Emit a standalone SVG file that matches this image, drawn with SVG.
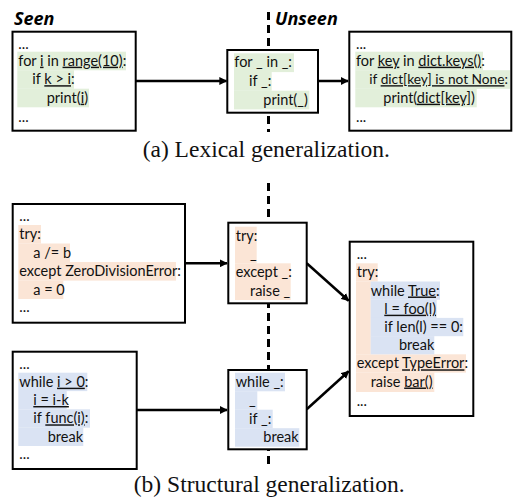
<svg xmlns="http://www.w3.org/2000/svg" width="513" height="504" viewBox="0 0 513 504">
<style>
.box{fill:#fff;stroke:#000;stroke-width:2}
.g{fill:#e2efda}
.o{fill:#fbe5d6}
.b{fill:#dae3f3}
.code{font-family:Lato,"Liberation Sans",sans-serif;font-size:14.5px;fill:#111}
.u{text-decoration:underline}
.head{font-family:"Open Sans","Liberation Sans",sans-serif;font-size:18px;font-weight:bold;font-style:italic;fill:#000}
.cap{font-family:"Liberation Serif",serif;font-size:23.5px;fill:#111;text-anchor:middle}
.conn{stroke:#000;stroke-width:2.5;fill:none}
.dash{stroke:#000;stroke-width:3;stroke-dasharray:8 5;fill:none}
</style>
<defs>
<marker id="ah" viewBox="0 0 10 10" refX="9" refY="5" markerWidth="3.2" markerHeight="3.2" orient="auto" markerUnits="strokeWidth">
<path d="M0,0 L10,5 L0,10 z" fill="#000"/>
</marker>
</defs>

<g id="divider">
<line class="dash" x1="268.5" y1="12" x2="268.5" y2="132"/>
<line class="dash" x1="268.5" y1="183" x2="268.5" y2="468"/>
</g>

<text class="head" x="14" y="25">Seen</text>
<text class="head" x="275" y="25">Unseen</text>

<g id="connectors">
<line class="conn" x1="136" y1="81" x2="226.5" y2="81" marker-end="url(#ah)"/>
<line class="conn" x1="318" y1="81" x2="348" y2="81" marker-end="url(#ah)"/>
<line class="conn" x1="185" y1="263.3" x2="227" y2="263.3" marker-end="url(#ah)"/>
<line class="conn" x1="306.7" y1="263.3" x2="348.7" y2="300.8" marker-end="url(#ah)"/>
<line class="conn" x1="136.7" y1="410" x2="227" y2="410" marker-end="url(#ah)"/>
<line class="conn" x1="306.7" y1="409.3" x2="348.7" y2="371.2" marker-end="url(#ah)"/>
</g>

<g id="seen-for">
<rect class="box" x="12.5" y="31.7" width="123.2" height="99"/>
<rect class="g" x="17.3" y="51.7" width="108.7" height="18.6"/>
<rect class="g" x="17.3" y="70.2" width="56.7" height="18.6"/>
<rect class="g" x="17.3" y="88.7" width="71.7" height="18.6"/>
<text class="code" x="18.3" y="48.5">...</text>
<text class="code" x="18.3" y="65.7">for <tspan class="u">i</tspan> in <tspan class="u">range(10)</tspan>:</text>
<text class="code" x="32.3" y="84.2">if <tspan class="u">k &gt; i</tspan>:</text>
<text class="code" x="46.7" y="102.7">print(<tspan class="u">i</tspan>)</text>
<text class="code" x="18.3" y="122">...</text>
</g>

<g id="template-for">
<rect class="box" x="227.3" y="50" width="90.7" height="62.7"/>
<rect class="g" x="234" y="53.3" width="60" height="18.8"/>
<rect class="g" x="234" y="72" width="37.7" height="18.8"/>
<rect class="g" x="234" y="90.7" width="75.3" height="18.7"/>
<text class="code" x="234.3" y="67.3">for _ in _:</text>
<text class="code" x="249" y="86">if _:</text>
<text class="code" x="263.3" y="104.7">print(_)</text>
</g>

<g id="unseen-for">
<rect class="box" x="349.3" y="31.7" width="162" height="99"/>
<rect class="g" x="355.3" y="51.7" width="127.7" height="18.6"/>
<rect class="g" x="355.3" y="70.2" width="154.7" height="18.6"/>
<rect class="g" x="355.3" y="88.7" width="121.4" height="18.6"/>
<text class="code" x="356" y="48.5">...</text>
<text class="code" x="356" y="65.7">for <tspan class="u">key</tspan> in <tspan class="u">dict.keys()</tspan>:</text>
<text class="code" x="369.3" y="84.2" style="font-size:13.7px">if <tspan class="u">dict[key] is not None</tspan>:</text>
<text class="code" x="383.3" y="102.7">print(<tspan class="u">dict[key]</tspan>)</text>
<text class="code" x="356" y="122">...</text>
</g>

<text class="cap" x="266.3" y="157">(a) Lexical generalization.</text>

<g id="seen-try">
<rect class="box" x="12.7" y="204" width="172.3" height="118.7"/>
<rect class="o" x="18.3" y="225" width="22.7" height="18.6"/>
<rect class="o" x="18.3" y="243.5" width="51.7" height="18.6"/>
<rect class="o" x="18.3" y="262" width="157.7" height="18.6"/>
<rect class="o" x="18.3" y="280.5" width="45" height="18.5"/>
<text class="code" x="19.3" y="221">...</text>
<text class="code" x="19.3" y="239">try:</text>
<text class="code" x="33.3" y="257.5">a /= b</text>
<text class="code" x="19.3" y="276">except ZeroDivisionError:</text>
<text class="code" x="33.3" y="294.5">a = 0</text>
<text class="code" x="19.3" y="312">...</text>
</g>

<g id="template-try">
<rect class="box" x="228.3" y="222.7" width="78.4" height="80.6"/>
<rect class="o" x="235" y="226.7" width="21.7" height="36.7"/>
<rect class="o" x="235" y="263.3" width="55.7" height="36.7"/>
<text class="code" x="235.7" y="240.7">try:</text>
<text class="code" x="250" y="259">_</text>
<text class="code" x="235.7" y="277.3">except _:</text>
<text class="code" x="250" y="295.7">raise _</text>
</g>

<g id="unseen-nested">
<rect class="box" x="349.7" y="241.7" width="123.6" height="174.3"/>
<rect class="o" x="356" y="263.3" width="21.7" height="18.3"/>
<rect class="o" x="356" y="281.5" width="14.8" height="72.9"/>
<rect class="o" x="356" y="354.3" width="110" height="18.3"/>
<rect class="o" x="356" y="372.5" width="78.3" height="19.5"/>
<rect class="b" x="370.7" y="281.5" width="69.3" height="18.3"/>
<rect class="b" x="370.7" y="299.7" width="66" height="18.3"/>
<rect class="b" x="370.7" y="317.9" width="92.6" height="18.3"/>
<rect class="b" x="370.7" y="336.1" width="63.6" height="18.2"/>
<text class="code" x="356.7" y="259">...</text>
<text class="code" x="356.7" y="277.3">try:</text>
<text class="code" x="370.7" y="295.5">while <tspan class="u">True</tspan>:</text>
<text class="code" x="384.3" y="313.7"><tspan class="u">l = foo(l)</tspan></text>
<text class="code" x="384.3" y="331.9">if len(l) == 0:</text>
<text class="code" x="399" y="350.1">break</text>
<text class="code" x="356.7" y="368.3">except <tspan class="u">TypeError</tspan>:</text>
<text class="code" x="370.7" y="386.5">raise <tspan class="u">bar()</tspan></text>
<text class="code" x="356.7" y="405.5">...</text>
</g>

<g id="seen-while">
<rect class="box" x="12.7" y="351.7" width="124" height="117.3"/>
<rect class="b" x="18.3" y="372.7" width="69" height="18.4"/>
<rect class="b" x="18.3" y="391" width="48.4" height="18.4"/>
<rect class="b" x="18.3" y="409.3" width="71.7" height="18.4"/>
<rect class="b" x="18.3" y="427.6" width="65" height="18.4"/>
<text class="code" x="19.3" y="368.5">...</text>
<text class="code" x="19.3" y="386.7">while <tspan class="u">i &gt; 0</tspan>:</text>
<text class="code" x="33.3" y="405"><tspan class="u">i = i-k</tspan></text>
<text class="code" x="33.3" y="423.3">if <tspan class="u">func(i)</tspan>:</text>
<text class="code" x="47.7" y="441.6">break</text>
<text class="code" x="19.3" y="459">...</text>
</g>

<g id="template-while">
<rect class="box" x="228.3" y="370" width="78.4" height="79.3"/>
<rect class="b" x="235" y="372.7" width="50" height="18.6"/>
<rect class="b" x="235" y="391.2" width="22.3" height="18.6"/>
<rect class="b" x="235" y="409.7" width="37.7" height="18.6"/>
<rect class="b" x="235" y="428.2" width="64.3" height="18.5"/>
<text class="code" x="235.7" y="386.7">while _:</text>
<text class="code" x="249" y="405.2">_</text>
<text class="code" x="249" y="423.7">if _:</text>
<text class="code" x="263.3" y="442.2">break</text>
</g>

<text class="cap" x="269.2" y="491.7">(b) Structural generalization.</text>
</svg>
